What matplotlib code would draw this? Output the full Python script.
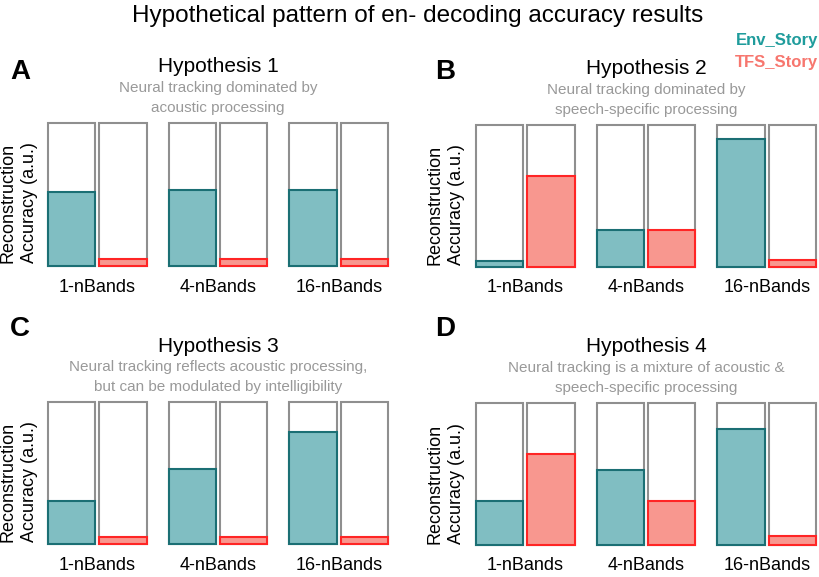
import matplotlib
matplotlib.use('Agg')
import matplotlib.pyplot as plt
import numpy as np

plt.rcParams['font.family'] = ['Liberation Sans', 'DejaVu Sans']

groups = ['1-nBands', '4-nBands', '16-nBands']
letters = ['A', 'B', 'C', 'D']
titles = ['Hypothesis 1', 'Hypothesis 2', 'Hypothesis 3', 'Hypothesis 4']
subtitles = ['Neural tracking dominated by\nacoustic processing',
             'Neural tracking dominated by\nspeech-specific processing',
             'Neural tracking reflects acoustic processing,\nbut can be modulated by intelligibility',
             'Neural tracking is a mixture of acoustic &\nspeech-specific processing']

# bar heights (a.u., full outline = 1)
env_h1 = [0.52, 0.53, 0.53]
tfs_h1 = [0.05, 0.05, 0.05]
env_h2 = [0.04, 0.26, 0.90]
tfs_h2 = [0.64, 0.26, 0.05]
env_h3 = [0.30, 0.53, 0.79]
tfs_h3 = [0.05, 0.05, 0.05]
env_h4 = [0.31, 0.53, 0.82]
tfs_h4 = [0.64, 0.31, 0.06]
env_all = [env_h1, env_h2, env_h3, env_h4]
tfs_all = [tfs_h1, tfs_h2, tfs_h3, tfs_h4]

teal_fill, teal_edge = '#80bec2', '#1b6f74'
red_fill, red_edge = '#f8978f', '#ff2525'
gray = '#8f8f8f'

W, H = 820, 577
fig = plt.figure(figsize=(W / 100, H / 100), dpi=100)

# axes boxes in pixels: left, right, top, bottom
boxes = [(48, 388, 123, 266), (476, 816, 125, 267),
         (48, 388, 402, 544), (476, 816, 403, 545)]
letter_pos = [(20, 72), (445, 72), (20, 329), (445, 329)]
ylab_pos = [(19, 203), (446, 205), (19, 482), (446, 484)]

def fx(x):
    return x / W

def fy(y):
    return 1 - y / H

gstep = 2.35
width = 0.92
for k in range(4):
    l, r, t, b = boxes[k]
    ax = fig.add_axes([fx(l), fy(b), (r - l) / W, (b - t) / H])
    centers = np.arange(len(groups)) * gstep
    xe = centers
    xt = centers + 1
    ax.bar(np.concatenate([xe, xt]), 1, width, facecolor='white', edgecolor=gray,
           linewidth=1.5, clip_on=False, zorder=1)
    ax.bar(xe, env_all[k], width, facecolor=teal_fill, edgecolor=teal_edge,
           linewidth=1.5, clip_on=False, zorder=2)
    ax.bar(xt, tfs_all[k], width, facecolor=red_fill, edgecolor=red_edge,
           linewidth=1.5, clip_on=False, zorder=2)
    ax.set_xlim(-width / 2, centers[-1] + 1 + width / 2)
    ax.set_ylim(0, 1)
    for s in ax.spines.values():
        s.set_visible(False)
    ax.set_yticks([])
    ax.set_xticks(centers + 0.5)
    ax.set_xticklabels(groups, fontsize=13)
    ax.tick_params(axis='x', length=0, pad=9)

    cx = (l + r) / 2
    fig.text(fx(cx), fy(t - 56), titles[k], fontsize=15, ha='center', va='center')
    fig.text(fx(cx), fy(t - 25), subtitles[k], fontsize=11, color='#999999',
             ha='center', va='center', linespacing=1.5)
    fig.text(fx(letter_pos[k][0]), fy(letter_pos[k][1]), letters[k], fontsize=20,
             fontweight='bold', ha='center', va='center')
    fig.text(fx(ylab_pos[k][0]), fy(ylab_pos[k][1]), 'Reconstruction\nAccuracy (a.u.)',
             fontsize=13, rotation=90, ha='center', va='center', linespacing=1.35)

fig.text(fx(418), fy(16), 'Hypothetical pattern of en- decoding accuracy results',
         fontsize=17.5, ha='center', va='center')
fig.text(fx(818), fy(41), 'Env_Story', fontsize=12, fontweight='bold',
         color='#1f9c9c', ha='right', va='center')
fig.text(fx(818), fy(62), 'TFS_Story', fontsize=12, fontweight='bold',
         color='#f7766e', ha='right', va='center')

fig.savefig('out.png', dpi=100)
